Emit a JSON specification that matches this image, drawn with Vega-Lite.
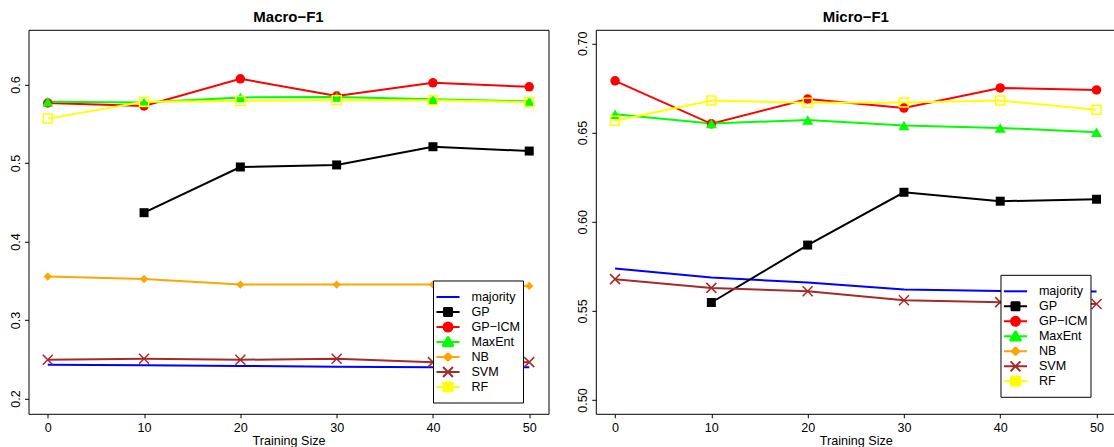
{
  "$schema": "https://vega.github.io/schema/vega-lite/v6.json",
  "padding": {"left": 8.5, "top": 9.8, "right": 0, "bottom": 0},
  "background": "white",
  "datasets": {
    "macro": [
      {"method": "majority", "size": 0, "f1": 0.243}, {"method": "majority", "size": 10, "f1": 0.2425}, {"method": "majority", "size": 20, "f1": 0.2415}, {"method": "majority", "size": 30, "f1": 0.2405}, {"method": "majority", "size": 40, "f1": 0.2398}, {"method": "majority", "size": 50, "f1": 0.2398},
      {"method": "GP", "size": 10, "f1": 0.4367}, {"method": "GP", "size": 20, "f1": 0.4949}, {"method": "GP", "size": 30, "f1": 0.4975}, {"method": "GP", "size": 40, "f1": 0.5207}, {"method": "GP", "size": 50, "f1": 0.5152},
      {"method": "GP−ICM", "size": 0, "f1": 0.5764}, {"method": "GP−ICM", "size": 10, "f1": 0.5726}, {"method": "GP−ICM", "size": 20, "f1": 0.6072}, {"method": "GP−ICM", "size": 30, "f1": 0.5852}, {"method": "GP−ICM", "size": 40, "f1": 0.6021}, {"method": "GP−ICM", "size": 50, "f1": 0.597},
      {"method": "MaxEnt", "size": 0, "f1": 0.578}, {"method": "MaxEnt", "size": 10, "f1": 0.577}, {"method": "MaxEnt", "size": 20, "f1": 0.5835}, {"method": "MaxEnt", "size": 30, "f1": 0.584}, {"method": "MaxEnt", "size": 40, "f1": 0.581}, {"method": "MaxEnt", "size": 50, "f1": 0.5785},
      {"method": "NB", "size": 0, "f1": 0.3553}, {"method": "NB", "size": 10, "f1": 0.3523}, {"method": "NB", "size": 20, "f1": 0.3451}, {"method": "NB", "size": 30, "f1": 0.3451}, {"method": "NB", "size": 40, "f1": 0.3451}, {"method": "NB", "size": 50, "f1": 0.3435},
      {"method": "SVM", "size": 0, "f1": 0.2494}, {"method": "SVM", "size": 10, "f1": 0.2506}, {"method": "SVM", "size": 20, "f1": 0.2494}, {"method": "SVM", "size": 30, "f1": 0.2506}, {"method": "SVM", "size": 40, "f1": 0.2464}, {"method": "SVM", "size": 50, "f1": 0.2464},
      {"method": "RF", "size": 0, "f1": 0.5565}, {"method": "RF", "size": 10, "f1": 0.578}, {"method": "RF", "size": 20, "f1": 0.579}, {"method": "RF", "size": 30, "f1": 0.58}, {"method": "RF", "size": 40, "f1": 0.58}, {"method": "RF", "size": 50, "f1": 0.5776}
    ],
    "micro": [
      {"method": "majority", "size": 0, "f1": 0.5738}, {"method": "majority", "size": 10, "f1": 0.5687}, {"method": "majority", "size": 20, "f1": 0.5659}, {"method": "majority", "size": 30, "f1": 0.562}, {"method": "majority", "size": 40, "f1": 0.5612}, {"method": "majority", "size": 50, "f1": 0.5609},
      {"method": "GP", "size": 10, "f1": 0.5547}, {"method": "GP", "size": 20, "f1": 0.5869}, {"method": "GP", "size": 30, "f1": 0.6165}, {"method": "GP", "size": 40, "f1": 0.6115}, {"method": "GP", "size": 50, "f1": 0.6126},
      {"method": "GP−ICM", "size": 0, "f1": 0.679}, {"method": "GP−ICM", "size": 10, "f1": 0.6549}, {"method": "GP−ICM", "size": 20, "f1": 0.6688}, {"method": "GP−ICM", "size": 30, "f1": 0.6637}, {"method": "GP−ICM", "size": 40, "f1": 0.675}, {"method": "GP−ICM", "size": 50, "f1": 0.6739},
      {"method": "MaxEnt", "size": 0, "f1": 0.6602}, {"method": "MaxEnt", "size": 10, "f1": 0.6551}, {"method": "MaxEnt", "size": 20, "f1": 0.657}, {"method": "MaxEnt", "size": 30, "f1": 0.654}, {"method": "MaxEnt", "size": 40, "f1": 0.6526}, {"method": "MaxEnt", "size": 50, "f1": 0.6502},
      {"method": "SVM", "size": 0, "f1": 0.5678}, {"method": "SVM", "size": 10, "f1": 0.5629}, {"method": "SVM", "size": 20, "f1": 0.561}, {"method": "SVM", "size": 30, "f1": 0.556}, {"method": "SVM", "size": 40, "f1": 0.5549}, {"method": "SVM", "size": 50, "f1": 0.5539},
      {"method": "RF", "size": 0, "f1": 0.6566}, {"method": "RF", "size": 10, "f1": 0.6679}, {"method": "RF", "size": 20, "f1": 0.6667}, {"method": "RF", "size": 30, "f1": 0.6669}, {"method": "RF", "size": 40, "f1": 0.6679}, {"method": "RF", "size": 50, "f1": 0.6628}
    ]
  },
  "hconcat": [
    {
      "title": "Macro−F1",
      "width": 520,
      "height": 384,
      "data": {"name": "macro"},
      "encoding": {
        "x": {"field": "size", "type": "quantitative", "title": "Training Size", "scale": {"domain": [-2, 52], "nice": false, "zero": false}, "axis": {"values": [0, 10, 20, 30, 40, 50]}},
        "y": {"field": "f1", "type": "quantitative", "title": null, "scale": {"domain": [0.1806, 0.6696], "nice": false, "zero": false}, "axis": {"values": [0.2, 0.3, 0.4, 0.5, 0.6], "format": ".1f"}}
      },
      "layer": [
        {
          "mark": {"type": "line", "strokeWidth": 2},
          "encoding": {
            "color": {
              "field": "method", "type": "nominal",
              "scale": {"domain": ["majority", "GP", "GP−ICM", "MaxEnt", "NB", "SVM", "RF"], "range": ["#0000ff", "#000000", "#ff0000", "#00ff00", "#ffa500", "#a52a2a", "#ffff00"]},
              "legend": {
                "orient": "none", "legendX": 404.5, "legendY": 250.7,
                "title": " ", "titleFontSize": 1, "titlePadding": 7,
                "padding": 2, "rowPadding": 0, "labelOffset": 16.9, "symbolOffset": 6.5,
                "symbolSize": 121, "symbolStrokeWidth": 2,
                "labelFontSize": 12.6, "labelFont": "Liberation Sans", "labelColor": "black",
                "strokeColor": "black", "fillColor": "white",
                "encode": {"symbols": {"update": {
                  "shape": {"signal": "({'majority':'M0,-1.02M0,1.02M-2.1,0H2.1','GP':'M0,-1.02M0,1.02M-2.1,0H2.1M-0.73,-0.73H0.73V0.73H-0.73Z','GP−ICM':'M0,-1.02M0,1.02M-2.1,0H2.1M-0.82,0A0.82,0.82 0 1,0 0.82,0A0.82,0.82 0 1,0 -0.82,0Z','MaxEnt':'M0,-1.02M0,1.02M-2.1,0H2.1M0,-0.95L1,0.75L-1,0.75Z','NB':'M0,-1.02M0,1.02M-2.1,0H2.1M0,-0.7L0.7,0L0,0.7L-0.7,0Z','SVM':'M0,-1.02M0,1.02M-2.1,0H2.1M-0.9,-0.9L0.9,0.9M-0.9,0.9L0.9,-0.9','RF':'M0,-1.02M0,2.24M-2.1,0H2.1M-0.82,-0.82H0.82V0.82H-0.82Z'})[datum.value]"},
                  "stroke": {"signal": "({'majority':'#0000ff','GP':'#000000','GP−ICM':'#ff0000','MaxEnt':'#00ff00','NB':'#ffa500','SVM':'#a52a2a','RF':'#ffff00'})[datum.value]"},
                  "fill": {"signal": "({'majority':'transparent','GP':'#000000','GP−ICM':'#ff0000','MaxEnt':'#00ff00','NB':'#ffa500','SVM':'transparent','RF':'transparent'})[datum.value]"},
                  "strokeWidth": {"value": 2},
                  "strokeJoin": {"value": "bevel"},
                  "size": {"value": 121},
                  "opacity": {"value": 1}
                }}}
              }
            }
          }
        },
        {"transform": [{"filter": "datum.method === 'GP'"}], "mark": {"type": "point", "shape": "square", "filled": true, "size": 81, "opacity": 1}, "encoding": {"color": {"field": "method", "type": "nominal", "legend": null}}},
        {"transform": [{"filter": "datum.method === 'GP−ICM'"}], "mark": {"type": "point", "shape": "circle", "filled": true, "size": 90, "opacity": 1}, "encoding": {"color": {"field": "method", "type": "nominal", "legend": null}}},
        {"transform": [{"filter": "datum.method === 'MaxEnt'"}], "mark": {"type": "point", "shape": "triangle-up", "filled": true, "size": 121, "opacity": 1}, "encoding": {"color": {"field": "method", "type": "nominal", "legend": null}}},
        {"transform": [{"filter": "datum.method === 'NB'"}], "mark": {"type": "point", "shape": "diamond", "filled": true, "size": 70, "opacity": 1}, "encoding": {"color": {"field": "method", "type": "nominal", "legend": null}}},
        {"transform": [{"filter": "datum.method === 'SVM'"}], "mark": {"type": "point", "shape": "M-1,-1L1,1M-1,1L1,-1", "filled": false, "size": 100, "strokeWidth": 1.5, "opacity": 1}, "encoding": {"color": {"field": "method", "type": "nominal", "legend": null}}},
        {"transform": [{"filter": "datum.method === 'RF'"}], "mark": {"type": "point", "shape": "square", "filled": false, "size": 81, "strokeWidth": 1.5, "opacity": 1}, "encoding": {"color": {"field": "method", "type": "nominal", "legend": null}}}
      ]
    },
    {
      "title": "Micro−F1",
      "width": 520,
      "height": 384,
      "data": {"name": "micro"},
      "encoding": {
        "x": {"field": "size", "type": "quantitative", "title": "Training Size", "scale": {"domain": [-2, 52], "nice": false, "zero": false}, "axis": {"values": [0, 10, 20, 30, 40, 50]}},
        "y": {"field": "f1", "type": "quantitative", "title": null, "scale": {"domain": [0.4923, 0.7076], "nice": false, "zero": false}, "axis": {"values": [0.5, 0.55, 0.6, 0.65, 0.7], "format": ".2f"}}
      },
      "layer": [
        {
          "mark": {"type": "line", "strokeWidth": 2},
          "encoding": {
            "color": {
              "field": "method", "type": "nominal",
              "scale": {"domain": ["majority", "GP", "GP−ICM", "MaxEnt", "NB", "SVM", "RF"], "range": ["#0000ff", "#000000", "#ff0000", "#00ff00", "#ffa500", "#a52a2a", "#ffff00"]},
              "legend": {
                "orient": "none", "legendX": 404.7, "legendY": 245,
                "title": " ", "titleFontSize": 1, "titlePadding": 7,
                "padding": 2, "rowPadding": 0, "labelOffset": 16.9, "symbolOffset": 6.5,
                "symbolSize": 121, "symbolStrokeWidth": 2,
                "labelFontSize": 12.6, "labelFont": "Liberation Sans", "labelColor": "black",
                "strokeColor": "black", "fillColor": "white",
                "encode": {"symbols": {"update": {
                  "shape": {"signal": "({'majority':'M0,-1.02M0,1.02M-2.1,0H2.1','GP':'M0,-1.02M0,1.02M-2.1,0H2.1M-0.73,-0.73H0.73V0.73H-0.73Z','GP−ICM':'M0,-1.02M0,1.02M-2.1,0H2.1M-0.82,0A0.82,0.82 0 1,0 0.82,0A0.82,0.82 0 1,0 -0.82,0Z','MaxEnt':'M0,-1.02M0,1.02M-2.1,0H2.1M0,-0.95L1,0.75L-1,0.75Z','NB':'M0,-1.02M0,1.02M-2.1,0H2.1M0,-0.7L0.7,0L0,0.7L-0.7,0Z','SVM':'M0,-1.02M0,1.02M-2.1,0H2.1M-0.9,-0.9L0.9,0.9M-0.9,0.9L0.9,-0.9','RF':'M0,-1.02M0,2.24M-2.1,0H2.1M-0.82,-0.82H0.82V0.82H-0.82Z'})[datum.value]"},
                  "stroke": {"signal": "({'majority':'#0000ff','GP':'#000000','GP−ICM':'#ff0000','MaxEnt':'#00ff00','NB':'#ffa500','SVM':'#a52a2a','RF':'#ffff00'})[datum.value]"},
                  "fill": {"signal": "({'majority':'transparent','GP':'#000000','GP−ICM':'#ff0000','MaxEnt':'#00ff00','NB':'#ffa500','SVM':'transparent','RF':'transparent'})[datum.value]"},
                  "strokeWidth": {"value": 2},
                  "strokeJoin": {"value": "bevel"},
                  "size": {"value": 121},
                  "opacity": {"value": 1}
                }}}
              }
            }
          }
        },
        {"transform": [{"filter": "datum.method === 'GP'"}], "mark": {"type": "point", "shape": "square", "filled": true, "size": 81, "opacity": 1}, "encoding": {"color": {"field": "method", "type": "nominal", "legend": null}}},
        {"transform": [{"filter": "datum.method === 'GP−ICM'"}], "mark": {"type": "point", "shape": "circle", "filled": true, "size": 90, "opacity": 1}, "encoding": {"color": {"field": "method", "type": "nominal", "legend": null}}},
        {"transform": [{"filter": "datum.method === 'MaxEnt'"}], "mark": {"type": "point", "shape": "triangle-up", "filled": true, "size": 121, "opacity": 1}, "encoding": {"color": {"field": "method", "type": "nominal", "legend": null}}},
        {"transform": [{"filter": "datum.method === 'SVM'"}], "mark": {"type": "point", "shape": "M-1,-1L1,1M-1,1L1,-1", "filled": false, "size": 100, "strokeWidth": 1.5, "opacity": 1}, "encoding": {"color": {"field": "method", "type": "nominal", "legend": null}}},
        {"transform": [{"filter": "datum.method === 'RF'"}], "mark": {"type": "point", "shape": "square", "filled": false, "size": 81, "strokeWidth": 1.5, "opacity": 1}, "encoding": {"color": {"field": "method", "type": "nominal", "legend": null}}}
      ]
    }
  ],
  "spacing": 47.3,
  "bounds": "flush",
  "resolve": {"scale": {"color": "independent"}, "legend": {"color": "independent"}},
  "config": {
    "font": "Liberation Sans",
    "view": {"stroke": "black", "strokeWidth": 1},
    "axis": {
      "grid": false, "domain": false, "tickColor": "black", "tickSize": 4, "tickWidth": 1,
      "labelColor": "black", "labelFont": "Liberation Sans", "labelFontSize": 12.6,
      "titleColor": "black", "titleFont": "Liberation Sans", "titleFontSize": 12.6, "titleFontWeight": "normal",
      "labelOverlap": false, "labelFlush": false
    },
    "axisX": {"labelPadding": 4, "titlePadding": 0},
    "axisY": {"labelAngle": -90, "labelAlign": "center", "labelBaseline": "alphabetic", "labelPadding": 5},
    "title": {"font": "Liberation Sans", "fontSize": 15, "fontWeight": "bold", "color": "black", "anchor": "middle", "baseline": "alphabetic", "offset": 4.5}
  }
}
